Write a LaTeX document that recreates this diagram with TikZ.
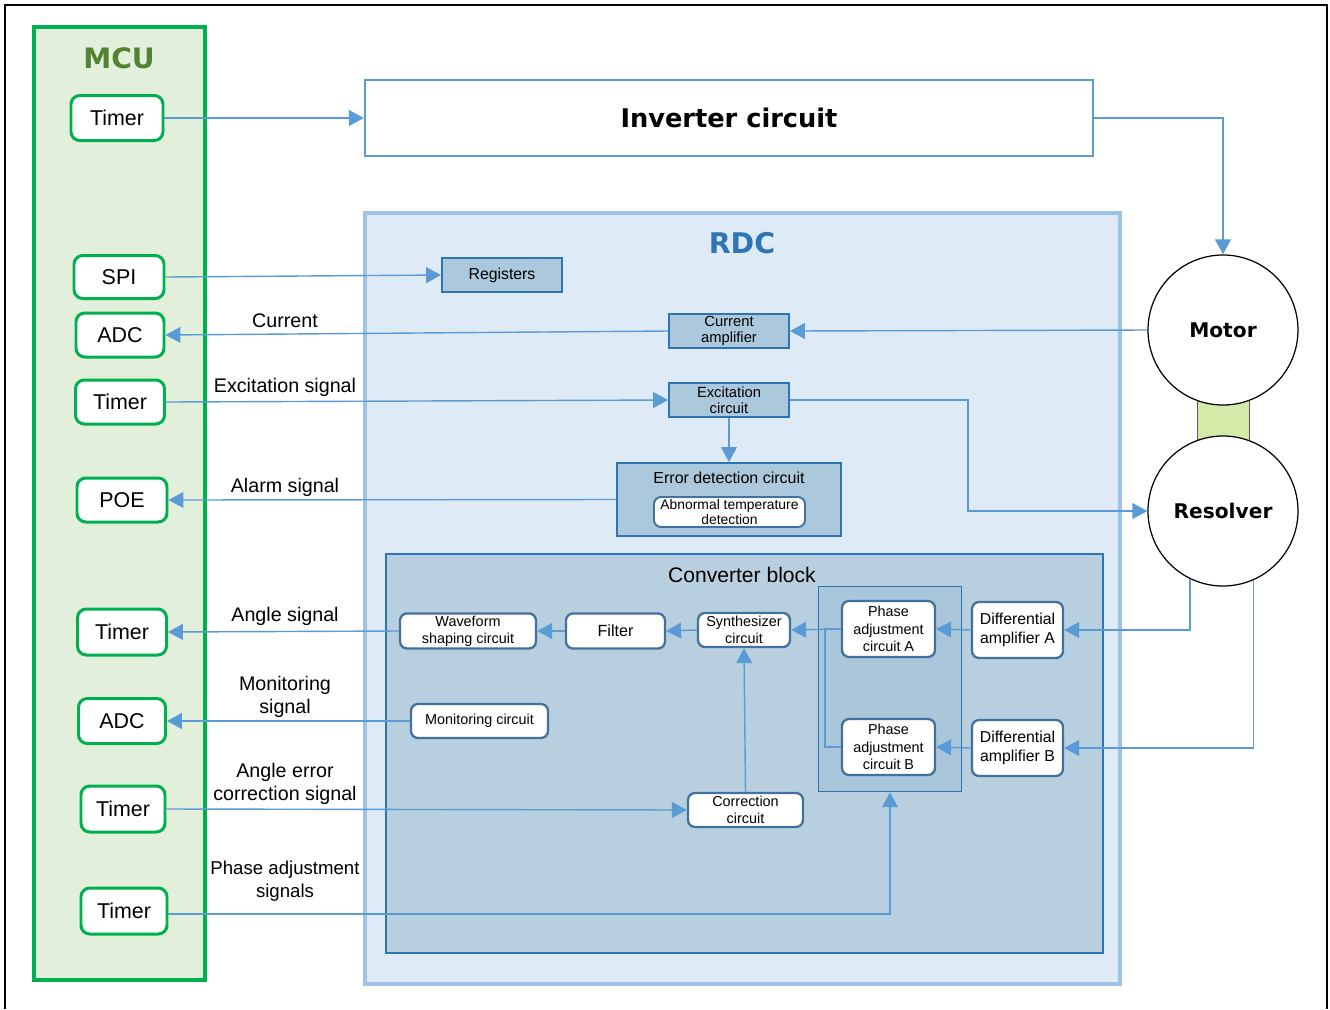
\documentclass[tikz,border=0pt]{standalone}
\usepackage{fontspec}
\setmainfont{Liberation Sans}
\newfontfamily\heavy{DejaVu Sans}
\usetikzlibrary{arrows.meta}
\definecolor{linec}{HTML}{5B9BD5}
\definecolor{mcugreen}{HTML}{00B050}
\definecolor{mcufill}{HTML}{E2EFDA}
\definecolor{mcutitle}{HTML}{548235}
\definecolor{rdcedge}{HTML}{9DC3E6}
\definecolor{rdcfill}{HTML}{DEEBF7}
\definecolor{rdctitle}{HTML}{2E75B6}
\definecolor{boxedge}{HTML}{2E75B6}
\definecolor{boxfill}{HTML}{ABC8DC}
\definecolor{convfill}{HTML}{B8CFDF}
\definecolor{grpfill}{HTML}{AAC6DA}
\definecolor{nodeedge}{HTML}{41719C}
\definecolor{shaftfill}{HTML}{D7E9A8}
\definecolor{shaftedge}{HTML}{595959}
\newcommand{\fs}[2]{\fontsize{#1}{#2}\selectfont}
\begin{document}
\begin{tikzpicture}[x=0.02cm,y=-0.02cm,
  sz/.style 2 args={minimum width=#1*0.02cm, minimum height=#2*0.02cm, inner sep=0pt},
  mcunode/.style={draw=mcugreen, fill=white, line width=1.7pt, rounded corners=5pt, font=\fs{12.2}{14}},
  bluebox/.style={draw=boxedge, fill=boxfill, line width=1.1pt, align=center},
  wnode/.style={draw=nodeedge, fill=white, line width=1.3pt, rounded corners=4pt, align=center},
  conn/.style={draw=linec, line width=0.8pt, -{Triangle[length=8.5pt,width=9pt]}},
  wire/.style={draw=linec, line width=0.8pt},
  lbl/.style={align=center, font=\fs{11.2}{13.4}, inner sep=0pt},
  heavytxt/.style={font=\heavy\bfseries}
]
\useasboundingbox (0,0) rectangle (1330,1009);
% outer frame
\draw[line width=1.4pt] (5,1009) -- (5,5) -- (1327,5) -- (1327,1009);

% MCU
\node[draw=mcugreen, fill=mcufill, line width=2.3pt, sz={171}{953}] (mcu) at (119.5,503.5) {};
\node[heavytxt, text=mcutitle, font=\heavy\bfseries\fs{16}{18}] (mcut) at (119,58) {MCU};
\node[mcunode, sz={92}{45}] (t1) at (117,118) {Timer};
\node[mcunode, sz={90}{43}] (spi) at (119,277) {SPI};
\node[mcunode, sz={88}{44}] (adc1) at (120,335) {ADC};
\node[mcunode, sz={89}{44}] (t2) at (120,402) {Timer};
\node[mcunode, sz={90}{44}] (poe) at (122,500) {POE};
\node[mcunode, sz={89}{46}] (t3) at (122,632) {Timer};
\node[mcunode, sz={87}{45}] (adc2) at (122,721) {ADC};
\node[mcunode, sz={84}{46}] (t4) at (123,809) {Timer};
\node[mcunode, sz={86}{46}] (t5) at (124,911) {Timer};

% Inverter
\node[draw=linec, fill=white, line width=1.3pt, sz={728}{76}, font=\heavy\bfseries\fs{14.6}{17}] (inv) at (729,118) {Inverter circuit};

% RDC
\node[draw=rdcedge, fill=rdcfill, line width=2.8pt, sz={755}{771}] (rdc) at (742.5,598.5) {};
\node[text=rdctitle, font=\heavy\bfseries\fs{16.2}{18}] (rdct) at (742,243) {RDC};
\node[bluebox, sz={120}{34}, font=\fs{9}{10}] (reg) at (502,275) {Registers};
\node[bluebox, sz={120}{34}, font=\fs{8.4}{9}] (camp) at (729,331) {Current\\amplifier};
\node[bluebox, sz={120}{34}, font=\fs{8.4}{9}] (exc) at (729,400) {Excitation\\circuit};
\node[bluebox, sz={224}{73}] (err) at (729,499.5) {};
\node[font=\fs{9.1}{10}, inner sep=0pt] (errt) at (729,478) {Error detection circuit};
\node[draw=nodeedge, fill=white, line width=1.1pt, rounded corners=4pt, sz={151}{30}, align=center, font=\fs{7.9}{6.9}] (abn) at (729.5,512) {Abnormal temperature\\detection};

% Converter block
\node[draw=boxedge, fill=convfill, line width=1.1pt, sz={717}{399}] (conv) at (744.5,753.5) {};
\node[font=\fs{12}{14}, inner sep=0pt] (convt) at (742,575) {Converter block};
\node[draw=boxedge, fill=grpfill, line width=0.9pt, sz={143}{205}] (grp) at (890,689) {};

\node[wnode, sz={136}{35}, font=\fs{8.2}{9.5}] (wave) at (468,631) {Waveform\\shaping circuit};
\node[wnode, sz={99}{35}, font=\fs{9.2}{10}] (filt) at (615.5,631) {Filter};
\node[wnode, sz={92}{34}, font=\fs{8.2}{9.3}] (syn) at (744,630) {Synthesizer\\circuit};
\node[wnode, sz={93}{56}, font=\fs{8.2}{10}] (pa) at (888.5,629) {Phase\\adjustment\\circuit A};
\node[wnode, sz={93}{56}, font=\fs{8.2}{10}] (pb) at (888.5,747) {Phase\\adjustment\\circuit B};
\node[wnode, sz={91}{56}, font=\fs{9}{11}] (da) at (1017.5,630) {Differential\\amplifier A};
\node[wnode, sz={91}{56}, font=\fs{9}{11}] (db) at (1017.5,748) {Differential\\amplifier B};
\node[wnode, sz={137}{34}, font=\fs{8.2}{9.5}] (mon) at (479.5,721) {Monitoring circuit};
\node[wnode, sz={115}{34}, font=\fs{8.2}{9.5}] (cor) at (745.5,810) {Correction\\circuit};

% Motor / Resolver
\node[draw=shaftedge, fill=shaftfill, line width=1pt, sz={52}{60}] (shaft) at (1223.5,420) {};
\node[circle, draw=black, fill=white, line width=0.7pt, minimum size=150*0.02cm, inner sep=0pt, font=\heavy\bfseries\fs{11.5}{13}] (motor) at (1223,330) {Motor};
\node[circle, draw=black, fill=white, line width=0.7pt, minimum size=150*0.02cm, inner sep=0pt, font=\heavy\bfseries\fs{11.5}{13}] (res) at (1223,511) {Resolver};

% connectors
\draw[conn] (t1.east) -- (inv.west);
\draw[conn] (inv.east) -| (motor.north);
\draw[conn] (spi.east) -- (reg.west);
\draw[conn] (motor.west) -- (camp.east);
\draw[conn] (camp.west) -- (adc1.east);
\draw[conn] (t2.east) -- (exc.west);
\draw[conn] (exc.east) -- ++(178,0) |- (res.west);
\draw[conn] (exc.south) -- (err.north);
\draw[conn] (err.west) -- (poe.east);
\draw[conn] (wave.west) -- (t3.east);
\draw[conn] (filt.west) -- (wave.east);
\draw[conn] (syn.west) -- (filt.east);
\draw[conn] (pa.west) -- (syn.east);
\draw[wire] (pb.west) -- ++(-16,0) |- (pa.west);
\draw[conn] (da.west) -- (pa.east);
\draw[conn] (db.west) -- (pb.east);
\draw[conn] (res.244) |- (da.east);
\draw[conn] (res.294) |- (db.east);
\draw[conn] (mon.west) -- (adc2.east);
\draw[conn] (t4.east) -- (cor.west);
\draw[conn] (cor.north) -- (syn.south);
\draw[conn] ([yshift=-1.7pt]t5.east) -| (grp.south);

% labels
\node[lbl] (l1) at (285,321) {Current};
\node[lbl] (l2) at (285,387) {Excitation signal};
\node[lbl] (l3) at (285,487) {Alarm signal};
\node[lbl] (l4) at (285,616) {Angle signal};
\node[lbl] (l5) at (285,697) {Monitoring\\signal};
\node[lbl] (l6) at (285,784) {Angle error\\correction signal};
\node[lbl, font=\fs{10.6}{13.2}] (l7) at (285,881.5) {Phase adjustment\\signals};
\end{tikzpicture}
\end{document}
